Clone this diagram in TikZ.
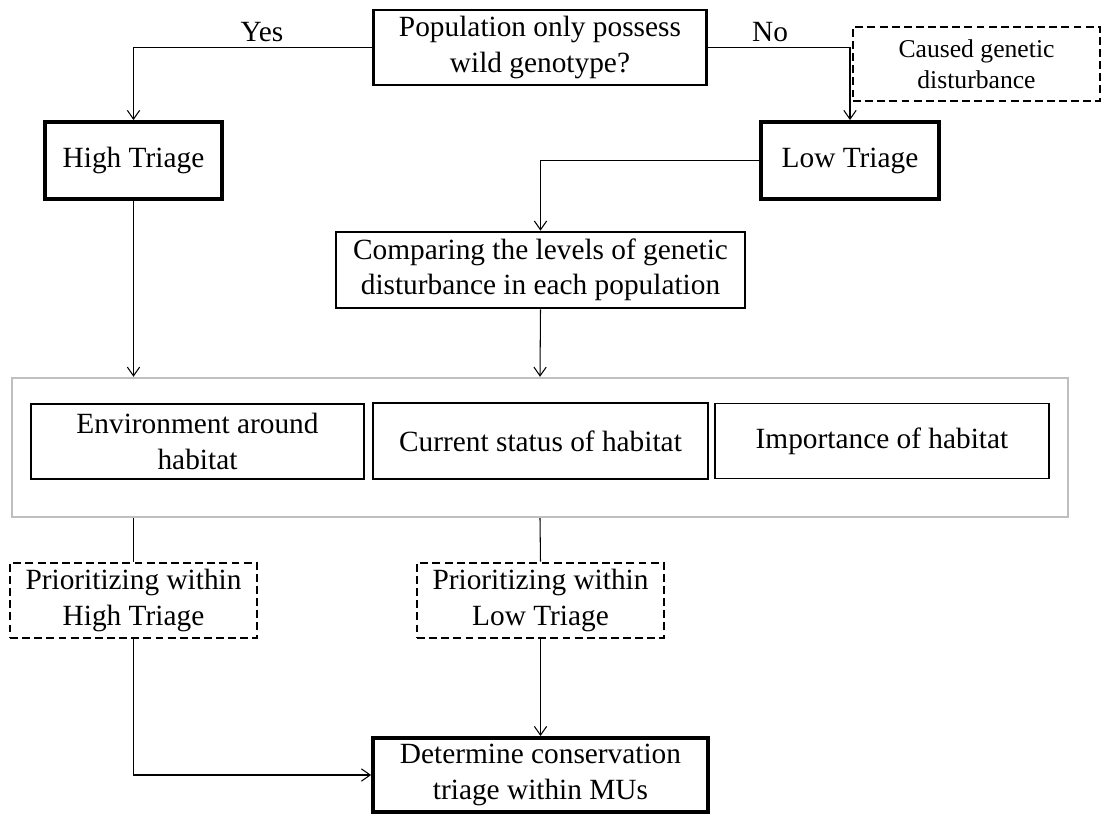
\documentclass[tikz,border=0pt]{standalone}
\usepackage{fontspec}
\setmainfont{Liberation Serif}
\usetikzlibrary{arrows.meta}

\begin{document}
\begin{tikzpicture}[x=0.02cm,y=-0.02cm,
    box/.style={draw,line width=1.5pt,align=center,inner sep=0pt,font=\fontsize{16.7}{20}\selectfont},
    heavy/.style={box,line width=2.2pt},
    plain/.style={box,line width=1.1pt},
    loose/.style={box,line width=1.5pt,dash pattern=on 4.5pt off 2.4pt},
    small/.style={font=\fontsize{14.6}{17.4}\selectfont},
    move/.style={-{Straight Barb[length=5pt,width=7pt]},line width=0.6pt},
    link/.style={line width=0.6pt}]

    \useasboundingbox (0,0) rectangle (1107,814);

    \node[box,minimum width=6.66cm,minimum height=1.5cm] (q) at (540,47.5) {Population only possess\\wild genotype?};
    \node[font=\fontsize{16.7}{20}\selectfont] (yes) at (262,32) {Yes};
    \node[font=\fontsize{16.7}{20}\selectfont] (no) at (770,32) {No};
    \node[loose,small,minimum width=4.94cm,minimum height=1.48cm] (caused) at (976.5,64) {Caused genetic\\disturbance};
    \node[heavy,minimum width=3.54cm,minimum height=1.54cm] (hi) at (133.5,160.5) {High Triage};
    \node[heavy,minimum width=3.56cm,minimum height=1.54cm] (lo) at (850,160.5) {Low Triage};
    \node[box,minimum width=8.18cm,minimum height=1.52cm] (comp) at (540.5,270) {Comparing the levels of genetic\\disturbance in each population};

    \node[draw=black!25,line width=1.4pt,minimum width=21.12cm,minimum height=2.78cm] (frame) at (540,447.5) {};
    \node[plain,minimum width=6.66cm,minimum height=1.5cm] (env) at (197.5,441.5) {Environment around\\habitat};
    \node[plain,minimum width=6.7cm,minimum height=1.52cm] (cur) at (540.5,441) {Current status of habitat};
    \node[plain,minimum width=6.68cm,minimum height=1.5cm] (imp) at (882,441) {Importance of habitat};

    \node[loose,minimum width=4.94cm,minimum height=1.5cm] (prioH) at (133.5,600.5) {Prioritizing within\\High Triage};
    \node[loose,minimum width=4.94cm,minimum height=1.5cm] (prioL) at (540.5,600.5) {Prioritizing within\\Low Triage};
    \node[heavy,minimum width=6.7cm,minimum height=1.48cm] (det) at (540.5,775) {Determine conservation\\triage within MUs};

    \draw[move] (q.west) -| (hi.north);
    \draw[move] (q.east) -| (lo.north);
    \draw[move] (lo.west) -| (comp.north);
    \draw[move] (hi.south) -- (hi.south |- frame.north);
    \draw[move] (comp.south) -- (frame.north);
    \draw[link] (hi.south |- frame.south) -- (prioH.north);
    \draw[link] (frame.south) -- (prioL.north);
    \draw[move] (prioH.south) |- (det.west);
    \draw[move] (prioL.south) -- (det.north);
\end{tikzpicture}
\end{document}
